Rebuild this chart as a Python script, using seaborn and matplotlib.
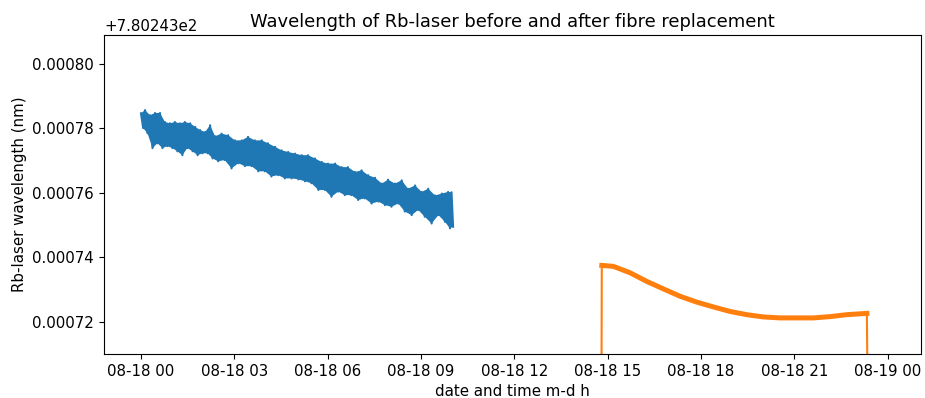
import numpy as np
import pandas as pd
import matplotlib
matplotlib.use("Agg")
import matplotlib.pyplot as plt
import matplotlib.dates as mdates
from matplotlib.ticker import ScalarFormatter
import seaborn as sns

OFFSET = 780.243  # nm
BASE = pd.Timestamp("2022-08-18 00:00")

# Blue series (before fibre replacement): hours after 08-18 00:00, wavelength minus offset (nm)
blue_peak_t = [0.00, 0.13, 0.29, 0.45, 0.61, 0.77, 0.93, 1.09, 1.25, 1.41, 1.58, 1.74, 1.90,
               2.06, 2.22, 2.38, 2.59, 2.80, 3.02, 3.24, 3.44, 3.66, 3.88, 4.08, 4.31, 4.52,
               4.73, 4.95, 5.17, 5.37, 5.59, 5.81, 6.01, 6.24, 6.45, 6.65, 6.88, 7.09, 7.30,
               7.52, 7.74, 7.94, 8.16, 8.38, 8.58, 8.81, 9.02, 9.23, 9.45, 9.67, 9.87, 9.98]
blue_peak_v = [0.0007847, 0.0007857, 0.0007841, 0.0007848, 0.0007848, 0.0007820, 0.0007816,
               0.0007820, 0.0007816, 0.0007820, 0.0007816, 0.0007805, 0.0007795, 0.0007789,
               0.0007810, 0.0007776, 0.0007784, 0.0007779, 0.0007763, 0.0007763, 0.0007774,
               0.0007763, 0.0007763, 0.0007754, 0.0007743, 0.0007732, 0.0007727, 0.0007722,
               0.0007717, 0.0007717, 0.0007707, 0.0007696, 0.0007691, 0.0007691, 0.0007680,
               0.0007680, 0.0007665, 0.0007670, 0.0007655, 0.0007647, 0.0007629, 0.0007641,
               0.0007629, 0.0007639, 0.0007613, 0.0007623, 0.0007603, 0.0007613, 0.0007592,
               0.0007598, 0.0007603, 0.0007602]
blue_trough_t = [0.07, 0.21, 0.37, 0.53, 0.69, 0.85, 1.01, 1.17, 1.33, 1.49, 1.66, 1.82, 1.98,
                 2.14, 2.30, 2.48, 2.69, 2.91, 3.13, 3.34, 3.55, 3.77, 3.98, 4.19, 4.41, 4.62,
                 4.84, 5.06, 5.27, 5.48, 5.70, 5.91, 6.12, 6.34, 6.55, 6.76, 6.98, 7.19, 7.41,
                 7.63, 7.84, 8.05, 8.27, 8.48, 8.70, 8.91, 9.12, 9.34, 9.56, 9.77, 9.93, 10.03]
blue_trough_v = [0.0007801, 0.0007785, 0.0007739, 0.0007754, 0.0007739, 0.0007745, 0.0007739,
                 0.0007729, 0.0007717, 0.0007739, 0.0007729, 0.0007717, 0.0007723, 0.0007723,
                 0.0007707, 0.0007698, 0.0007702, 0.0007676, 0.0007692, 0.0007683, 0.0007683,
                 0.0007667, 0.0007667, 0.0007651, 0.0007655, 0.0007645, 0.0007645, 0.0007642,
                 0.0007636, 0.0007630, 0.0007609, 0.0007609, 0.0007588, 0.0007604, 0.0007593,
                 0.0007593, 0.0007578, 0.0007583, 0.0007567, 0.0007573, 0.0007562, 0.0007557,
                 0.0007567, 0.0007542, 0.0007531, 0.0007547, 0.0007526, 0.0007505, 0.0007531,
                 0.0007510, 0.0007490, 0.0007495]

# Orange series (after fibre replacement)
orange_t = [14.80, 14.81, 15.18, 15.72, 16.26, 16.79, 17.33, 17.86, 18.40, 18.93, 19.47,
            20.00, 20.54, 21.08, 21.61, 22.15, 22.68, 23.33, 23.35]
orange_v = [0.000700, 0.0007375, 0.0007372, 0.0007352, 0.0007325, 0.0007302, 0.0007279,
            0.0007261, 0.0007246, 0.0007232, 0.0007222, 0.0007215, 0.0007212, 0.0007212,
            0.0007212, 0.0007216, 0.0007222, 0.0007226, 0.000700]


def to_time(hours):
    return BASE + pd.to_timedelta(pd.Series(hours, dtype=float), unit="h")


plt.rcParams.update({
    "font.size": 10.8,
    "axes.titlesize": 12.9,
    "axes.labelsize": 10.8,
    "xtick.labelsize": 10.8,
    "ytick.labelsize": 10.8,
})

blue = pd.DataFrame({"h": blue_peak_t + blue_trough_t, "v": blue_peak_v + blue_trough_v})
blue = blue.sort_values("h").reset_index(drop=True)
blue["time"] = to_time(blue["h"].tolist())
blue["wl"] = OFFSET + blue["v"]

orange = pd.DataFrame({"h": orange_t, "v": orange_v})
orange["time"] = to_time(orange_t)
orange["wl"] = OFFSET + orange["v"]

fig = plt.figure(figsize=(9.25, 3.98), dpi=100)
ax = fig.add_axes([0.1124, 0.1106, 0.8833, 0.8014])

# dense band of the noisy blue trace: polygon through peaks and troughs
band_t = pd.concat([to_time(blue_peak_t), to_time(blue_trough_t[::-1])])
band_v = np.concatenate([np.array(blue_peak_v), np.array(blue_trough_v[::-1])]) + OFFSET
ax.fill(mdates.date2num(band_t), band_v, color="#1f77b4", lw=0)
sns.lineplot(data=blue, x="time", y="wl", estimator=None, sort=False,
             color="#1f77b4", lw=1.5, ax=ax)

sns.lineplot(data=orange, x="time", y="wl", estimator=None, sort=False,
             color="#ff7f0e", lw=1.5, ax=ax)
sns.lineplot(data=orange.iloc[1:-1], x="time", y="wl", estimator=None, sort=False,
             color="#ff7f0e", lw=3.6, ax=ax)

ax.set_xlim(BASE + pd.Timedelta(hours=-1.19), BASE + pd.Timedelta(hours=25.07))
ax.set_ylim(OFFSET + 0.000710, OFFSET + 0.000809)
ax.xaxis.set_major_locator(mdates.HourLocator(byhour=range(0, 24, 3)))
ax.xaxis.set_major_formatter(mdates.DateFormatter("%m-%d %H"))
fmt = ScalarFormatter(useOffset=OFFSET)
fmt.set_scientific(False)
ax.yaxis.set_major_formatter(fmt)
ax.set_yticks([OFFSET + 0.00072, OFFSET + 0.00074, OFFSET + 0.00076,
               OFFSET + 0.00078, OFFSET + 0.00080])

ax.set_title("Wavelength of Rb-laser before and after fibre replacement")
ax.set_xlabel("date and time m-d h")
ax.set_ylabel("Rb-laser wavelength (nm)")

fig.savefig("out.png", dpi=100)
